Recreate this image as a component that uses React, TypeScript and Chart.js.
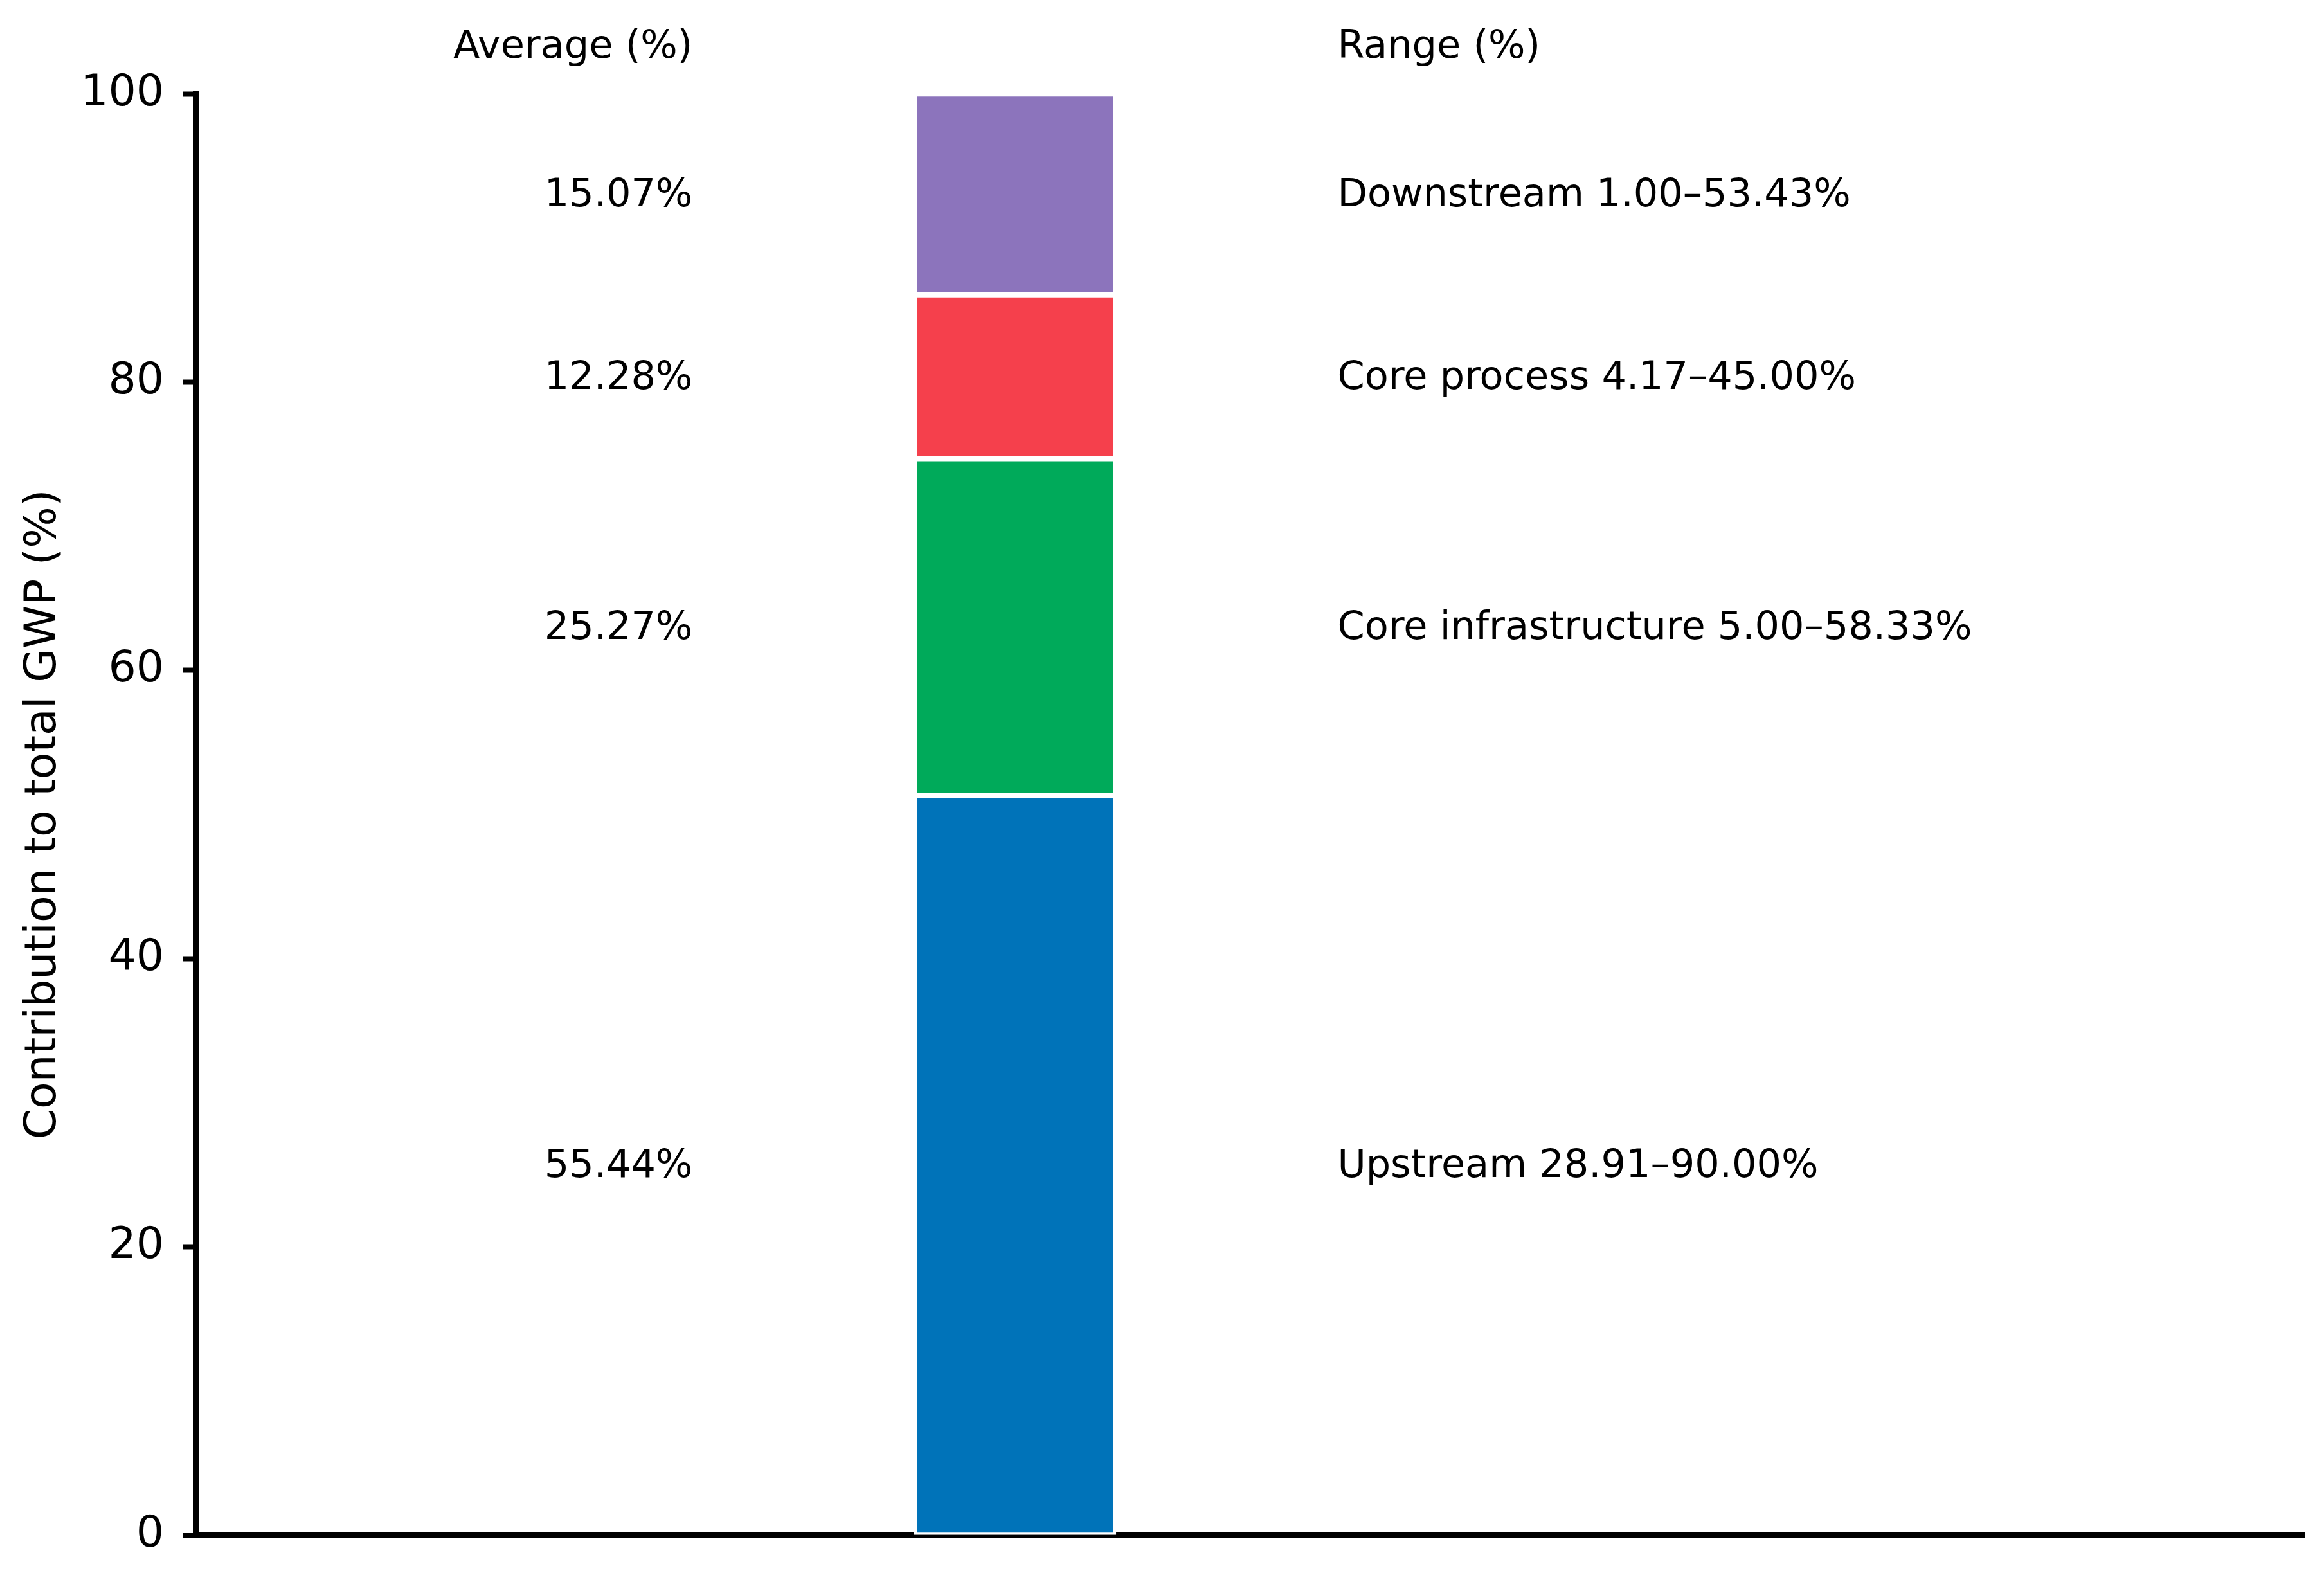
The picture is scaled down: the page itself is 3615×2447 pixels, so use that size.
import { useRef, useEffect } from "react";
import { Chart, registerables } from "chart.js";

Chart.register(...registerables);

const categories = ["Upstream", "Core infrastructure", "Core process", "Downstream"];
const averages = [55.44, 25.27, 12.28, 15.07];
const rangeLow = [28.91, 5.0, 4.17, 1.0];
const rangeHigh = [90.0, 58.33, 45.0, 53.43];
const colors = ["#0073B9", "#00AA5A", "#F5404C", "#8C74BC"];
const yTicks = [0, 20, 40, 60, 80, 100];

// bar sits at x = 0, the two text columns at -1 and +1
const BAR_X = 0;
const AVG_X = -1;
const RANGE_X = 1;
const HEADER_Y = 103.2;

const FONT = "DejaVu Sans";

const total = averages.reduce((a, b) => a + b, 0);
const shares = averages.map((v) => (v / total) * 100);

const labelPlugin = {
  id: "segmentLabels",
  afterDatasetsDraw(chart: any) {
    const { ctx, scales } = chart;
    const x = scales.x;
    const y = scales.y;
    const leftX = x.getPixelForValue(AVG_X);
    const rightX = x.getPixelForValue(RANGE_X);

    ctx.save();
    ctx.font = `60.5px "${FONT}"`;
    ctx.fillStyle = "#000";
    ctx.textBaseline = "middle";

    const headY = y.getPixelForValue(HEADER_Y);
    ctx.textAlign = "right";
    ctx.fillText("Average (%)", leftX, headY);
    ctx.textAlign = "left";
    ctx.fillText("Range (%)", rightX, headY);

    categories.forEach((name, i) => {
      const bar = chart.getDatasetMeta(i).data[0];
      if (!bar) return;
      const { y: top, base } = bar.getProps(["y", "base"], true);
      const cy = (top + base) / 2 + 3;
      ctx.textAlign = "right";
      ctx.fillText(averages[i].toFixed(2) + "%", leftX, cy);
      ctx.textAlign = "left";
      ctx.fillText(
        `${name} ${rangeLow[i].toFixed(2)}\u2013${rangeHigh[i].toFixed(2)}%`,
        rightX,
        cy
      );
    });
    ctx.restore();
  },
};

function StackedShare() {
  const chartRef = useRef<HTMLCanvasElement>(null);

  useEffect(() => {
    if (!chartRef.current) return;

    const chart = new Chart(chartRef.current, {
      type: "bar",
      data: {
        datasets: categories.map((name, i) => ({
          label: name,
          data: [{ x: BAR_X, y: shares[i] }],
          backgroundColor: colors[i],
          borderColor: "#ffffff",
          borderWidth: 4.5,
          borderSkipped: false,
          barThickness: 314,
          stack: "gwp",
        })),
      },
      options: {
        animation: false,
        responsive: true,
        maintainAspectRatio: false,
        devicePixelRatio: 1,
        layout: { padding: { top: 146, right: 30, left: 0, bottom: 0 } },
        plugins: {
          legend: { display: false },
          tooltip: { enabled: false },
        },
        scales: {
          x: {
            type: "linear",
            min: -2.54,
            max: 4,
            offset: false,
            stacked: true,
            z: 1,
            grid: { display: false, offset: false },
            ticks: { display: false },
            border: { display: true, color: "#000", width: 10 },
            afterFit: (scale: any) => {
              scale.height = 59;
            },
          },
          y: {
            min: 0,
            max: 100,
            stacked: true,
            z: 1,
            afterBuildTicks: (scale: any) => {
              scale.ticks = yTicks.map((v) => ({ value: v }));
            },
            ticks: {
              color: "#000",
              padding: 30,
              font: { family: FONT, size: 68, lineHeight: 0.8 },
            },
            grid: {
              drawOnChartArea: false,
              drawTicks: true,
              tickLength: 20,
              tickWidth: 8,
              tickColor: "#000",
            },
            border: { display: true, color: "#000", width: 10 },
            title: {
              display: true,
              text: "Contribution to total GWP (%)",
              color: "#000",
              font: { family: FONT, size: 68 },
              padding: { top: 28, bottom: 0 },
            },
            afterFit: (scale: any) => {
              scale.width = 305;
            },
          },
        },
      },
      plugins: [labelPlugin],
    });

    return () => chart.destroy();
  }, []);

  return (
    <div style={{ width: 3615, height: 2447, background: "#fff" }}>
      <canvas ref={chartRef}></canvas>
    </div>
  );
}

export default function App() {
  useEffect(() => {
    document.body.style.margin = "0";
    document.body.style.overflow = "hidden";
  }, []);
  return <StackedShare />;
}
